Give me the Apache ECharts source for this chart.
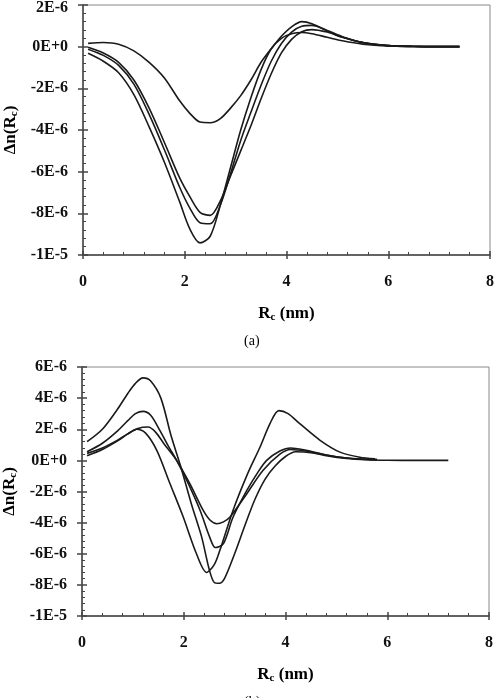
<!DOCTYPE html>
<html>
<head>
<meta charset="utf-8">
<script src="https://cdn.jsdelivr.net/npm/echarts@6/dist/echarts.min.js"></script>
<style>
  html, body { margin: 0; padding: 0; background: #fff; }
  #chart { width: 496px; height: 698px; }
</style>
</head>
<body>
<div id="chart"></div>
<script>
// values are in units of 1E-6
const xTicks = [0, 2, 4, 6, 8];
const yValsA = [-10, -8, -6, -4, -2, 0, 2];
const yLabelsA = ["-1E-5", "-8E-6", "-6E-6", "-4E-6", "-2E-6", "0E+0", "2E-6"];
const yValsB = [-10, -8, -6, -4, -2, 0, 2, 4, 6];
const yLabelsB = ["-1E-5", "-8E-6", "-6E-6", "-4E-6", "-2E-6", "0E+0", "2E-6", "4E-6", "6E-6"];

// panel (a)
const xA = [0.1, 0.4, 0.7, 1.0, 1.3, 1.6, 1.9, 2.1, 2.3, 2.5, 2.7, 2.9, 3.1, 3.3, 3.5, 3.7, 3.9, 4.1, 4.3, 4.5, 4.8, 5.1, 5.5, 6.0, 6.5, 7.0, 7.4];
const a1 = [0.16, 0.2, 0.12, -0.2, -0.75, -1.5, -2.6, -3.2, -3.62, -3.65, -3.45, -2.95, -2.35, -1.6, -0.75, -0.1, 0.5, 0.95, 1.2, 1.1, 0.75, 0.45, 0.2, 0.05, 0.02, 0, 0];
const a2 = [-0.03, -0.3, -0.75, -1.6, -2.95, -4.6, -6.3, -7.2, -7.95, -8.1, -7.4, -6.2, -5.0, -3.8, -2.5, -1.3, -0.3, 0.35, 0.72, 0.82, 0.7, 0.45, 0.2, 0.05, 0.01, 0, 0];
const a3 = [-0.12, -0.42, -0.9, -1.8, -3.25, -4.95, -6.75, -7.75, -8.45, -8.5, -7.6, -6.1, -4.5, -3.15, -1.85, -0.7, 0.15, 0.7, 0.98, 1.02, 0.78, 0.48, 0.2, 0.05, 0.01, 0, 0];
const a4 = [-0.32, -0.7, -1.25, -2.3, -3.85, -5.55, -7.45, -8.75, -9.42, -9.1, -7.6, -5.8, -4.0, -2.45, -1.1, -0.1, 0.4, 0.62, 0.68, 0.62, 0.45, 0.28, 0.12, 0.03, 0.01, 0, 0];

// panel (b)
const xB1 = [0.1, 0.4, 0.7, 0.9, 1.05, 1.2, 1.35, 1.55, 1.75, 1.95, 2.15, 2.35, 2.5, 2.6, 2.7, 2.8, 3.0, 3.2, 3.4, 3.6, 3.8, 4.0, 4.2, 4.5, 4.8, 5.2, 5.6, 6.0, 6.6, 7.2];
const b1 = [1.2, 2.0, 3.3, 4.3, 4.95, 5.3, 5.1, 4.0, 1.6, -0.5, -2.8, -4.9, -7.0, -7.85, -7.9, -7.6, -6.0, -4.2, -2.5, -1.2, -0.35, 0.25, 0.55, 0.5, 0.3, 0.12, 0.04, 0.01, 0, 0];
const xB2 = [0.1, 0.4, 0.7, 0.9, 1.07, 1.25, 1.47, 1.73, 1.99, 2.25, 2.45, 2.6, 2.71, 2.97, 3.25, 3.5, 3.7, 3.87, 4.05, 4.28, 4.68, 5.07, 5.46, 5.76];
const b2 = [0.3, 0.7, 1.25, 1.7, 2.0, 1.75, 0.64, -1.5, -3.64, -6.0, -7.2, -6.7, -5.78, -3.2, -0.9, 0.86, 2.4, 3.2, 3.0, 2.36, 1.29, 0.53, 0.2, 0.1];
const xB3 = [0.1, 0.4, 0.7, 0.9, 1.05, 1.2, 1.35, 1.53, 1.7, 1.86, 2.06, 2.32, 2.51, 2.62, 2.78, 2.97, 3.24, 3.45, 3.63, 3.89, 4.1, 4.4, 4.8, 5.2, 5.5, 5.8];
const b3 = [0.55, 1.1, 1.9, 2.55, 3.0, 3.15, 2.9, 1.93, 0.9, 0.0, -1.29, -3.2, -4.93, -5.6, -5.35, -3.64, -1.93, -0.8, 0.0, 0.6, 0.8, 0.65, 0.35, 0.15, 0.07, 0.05];
const xB4 = [0.1, 0.4, 0.7, 0.9, 1.1, 1.3, 1.45, 1.61, 1.86, 2.12, 2.38, 2.52, 2.65, 2.78, 2.91, 3.24, 3.56, 3.89, 4.1, 4.4, 4.8, 5.2, 5.5, 5.8];
const b4 = [0.45, 0.8, 1.3, 1.7, 2.05, 2.14, 1.8, 1.07, 0.0, -1.5, -3.2, -3.85, -4.07, -3.95, -3.64, -2.14, -0.64, 0.4, 0.7, 0.6, 0.35, 0.15, 0.08, 0.05];

const serif = "Liberation Serif";
const pairs = (xs, ys) => ys.map((y, i) => [xs[i], y]);

const nameStyle = {
  fontFamily: serif, fontWeight: "bold", fontSize: 17, color: "#000",
  rich: { s: { fontFamily: serif, fontWeight: "bold", fontSize: 11, color: "#000", padding: [7, 0, 0, 0] } }
};
const labelStyle = { fontFamily: serif, fontWeight: "bold", fontSize: 16, color: "#111" };

function mainX(grid) {
  return {
    gridIndex: grid, type: "value", min: 0, max: 8, interval: 2, position: "bottom",
    name: "R{s|c} (nm)", nameLocation: "middle", nameGap: 50, nameTextStyle: nameStyle,
    axisLine: { onZero: false, lineStyle: { color: "#444", width: 1.5 } },
    axisTick: { length: 4, lineStyle: { color: "#444", width: 1.5 } },
    axisLabel: Object.assign({ margin: 19, formatter: v => String(xTicks[xTicks.indexOf(v)]) }, labelStyle),
    splitLine: { show: false }
  };
}
function dupX(grid) {
  return {
    gridIndex: grid, type: "value", min: 0, max: 8, interval: 2, position: "bottom",
    axisLine: { show: false, onZero: false },
    axisTick: { inside: true, length: 4, lineStyle: { color: "#444", width: 1.5 } },
    minorTick: { show: true, splitNumber: 5, length: 3, lineStyle: { color: "#444", width: 1 } },
    axisLabel: { show: false }, splitLine: { show: false }
  };
}
function mainY(grid, min, max, vals, labels, gap, pushTop) {
  return {
    gridIndex: grid, type: "value", min: min, max: max, interval: 2, position: "left",
    name: "\u0394n(R{s|c})", nameLocation: "middle", nameGap: gap, nameTextStyle: nameStyle,
    axisLine: { onZero: false, lineStyle: { color: "#444", width: 1.5 } },
    axisTick: { length: 5, lineStyle: { color: "#444", width: 1.5 } },
    axisLabel: Object.assign({
      margin: 15,
      formatter: v => {
        const t = labels[vals.indexOf(Math.round(v))];
        return (pushTop && Math.round(v) === max) ? "{t|" + t + "}" : t;
      },
      rich: { t: Object.assign({ padding: [6, 0, 0, 0] }, labelStyle) }
    }, labelStyle),
    splitLine: { show: false }
  };
}
function dupY(grid, min, max) {
  return {
    gridIndex: grid, type: "value", min: min, max: max, interval: 2, position: "left",
    axisLine: { show: false, onZero: false },
    axisTick: { inside: true, length: 5, lineStyle: { color: "#444", width: 1.5 } },
    minorTick: { show: true, splitNumber: 5, length: 3, lineStyle: { color: "#444", width: 1 } },
    axisLabel: { show: false }, splitLine: { show: false }
  };
}
function curve(grid, data) {
  return {
    type: "line", xAxisIndex: grid * 2, yAxisIndex: grid * 2, data: data,
    showSymbol: false, smooth: 0.3, silent: true,
    lineStyle: { color: "#1a1a1a", width: 1.6 }
  };
}

const chart = echarts.init(document.getElementById("chart"), null, { renderer: "canvas" });
chart.setOption({
  animation: false,
  backgroundColor: "#fff",
  title: [
    { text: "(a)", left: 239, top: 329, textStyle: { fontFamily: serif, fontWeight: "normal", fontSize: 14, color: "#000" } },
    { text: "(b)", left: 239, top: 690, textStyle: { fontFamily: serif, fontWeight: "normal", fontSize: 14, color: "#000" } }
  ],
  grid: [
    { left: 83, top: 5, width: 407, height: 250, show: true, borderColor: "#888", borderWidth: 1, outerBoundsMode: "none" },
    { left: 82, top: 367, width: 407, height: 249, show: true, borderColor: "#888", borderWidth: 1, outerBoundsMode: "none" }
  ],
  xAxis: [mainX(0), dupX(0), mainX(1), dupX(1)],
  yAxis: [
    mainY(0, -10, 2, yValsA, yLabelsA, 58, true), dupY(0, -10, 2),
    mainY(1, -10, 6, yValsB, yLabelsB, 58, false), dupY(1, -10, 6)
  ],
  series: [
    curve(0, pairs(xA, a1)), curve(0, pairs(xA, a2)), curve(0, pairs(xA, a3)), curve(0, pairs(xA, a4)),
    curve(1, pairs(xB1, b1)), curve(1, pairs(xB2, b2)), curve(1, pairs(xB3, b3)), curve(1, pairs(xB4, b4))
  ]
});
</script>
</body>
</html>
